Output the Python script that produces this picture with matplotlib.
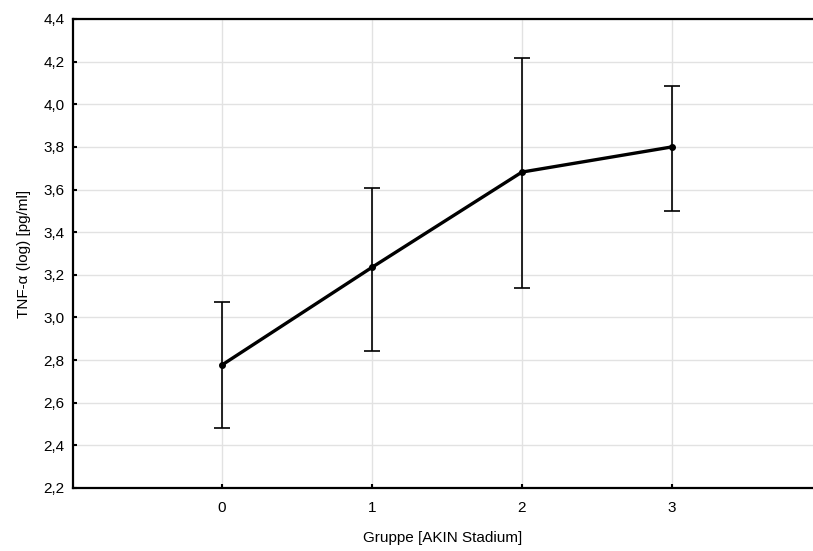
import matplotlib
matplotlib.use("Agg")
import matplotlib.pyplot as plt
from matplotlib.ticker import FuncFormatter

plt.rcParams["font.family"] = ["Liberation Sans", "DejaVu Sans"]

# Gruppen-Mittelwerte mit Konfidenzgrenzen
gruppen = [0, 1, 2, 3]
mittelwert = [2.777, 3.235, 3.682, 3.800]
untere_grenze = [2.482, 2.843, 3.138, 3.499]
obere_grenze = [3.072, 3.607, 4.217, 4.086]

fehler_unten = [m - u for m, u in zip(mittelwert, untere_grenze)]
fehler_oben = [o - m for m, o in zip(mittelwert, obere_grenze)]

fig = plt.figure(figsize=(8.13, 5.51), dpi=100)
ax = fig.add_axes([73 / 813, 1 - 488 / 551, 1 - 73 / 813, (488 - 19) / 551])

ax.errorbar(
    gruppen, mittelwert, yerr=[fehler_unten, fehler_oben],
    fmt="none", ecolor="black", elinewidth=1.2, capsize=6, capthick=1.2, zorder=3,
)
ax.plot(gruppen, mittelwert, color="black", linewidth=2.4, marker="o",
        markersize=4, zorder=4)

ax.set_xlim(-0.993, 3.94)
ax.set_ylim(2.2, 4.4)
ax.set_xticks(gruppen)
ax.set_yticks([2.2 + 0.2 * i for i in range(12)])
ax.yaxis.set_major_formatter(FuncFormatter(lambda v, _: f"{v:.1f}".replace(".", ",")))

ax.grid(True, color="#e2e2e2", linewidth=1.0)
ax.set_axisbelow(True)

for side in ("left", "bottom", "top"):
    ax.spines[side].set_linewidth(1.6)
    ax.spines[side].set_color("black")
ax.spines["right"].set_visible(False)

ax.tick_params(axis="both", direction="in", length=3, width=1.5,
               labelsize=11, colors="black")
ax.tick_params(axis="y", pad=6)
ax.tick_params(axis="x", pad=9)

ax.set_xlabel("Gruppe [AKIN Stadium]", fontsize=11, labelpad=12)
ax.set_ylabel("TNF-α (log) [pg/ml]", fontsize=11, labelpad=9)

fig.savefig("out.png", dpi=100)
